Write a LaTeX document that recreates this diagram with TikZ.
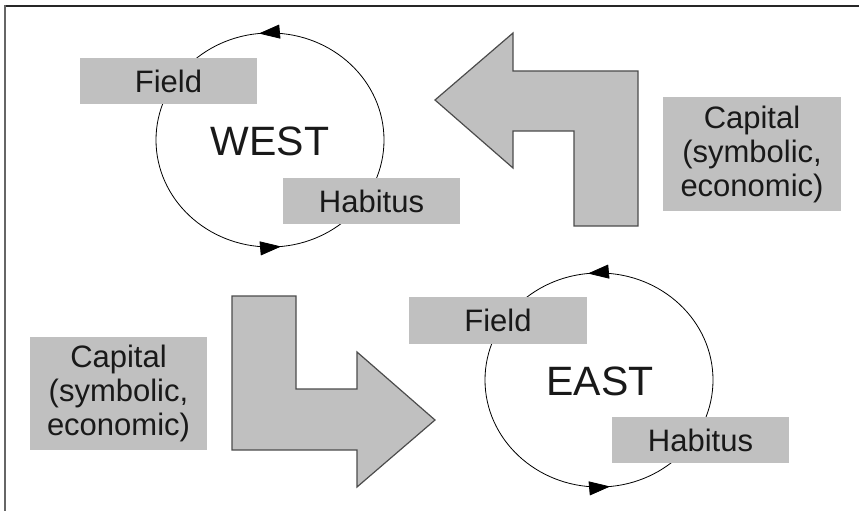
\documentclass[tikz,border=0pt]{standalone}
\usepackage{fontspec}
\setmainfont{Liberation Sans}
\usetikzlibrary{arrows.meta,decorations.markings,shapes.geometric}
\definecolor{boxgray}{RGB}{192,192,192}
\definecolor{txt}{RGB}{25,25,25}
\begin{document}
\begin{tikzpicture}[x=1pt,y=-1pt,
  lbl/.style={fill=boxgray, inner sep=0pt, text=txt, align=center,
    font=\fontsize{31}{34}\selectfont},
  small/.style={lbl, minimum width=177pt, minimum height=46pt},
  tall/.style={lbl, minimum width=178pt, minimum height=114pt},
  big/.style={text=txt, font=\fontsize{41}{44}\selectfont, inner sep=0pt},
  cyc/.style={draw=black, line width=0.8pt, postaction={decorate},
    decoration={markings,
      mark=at position 0.266 with {\arrow{Triangle[length=21pt,width=14pt]}},
      mark=at position 0.766 with {\arrow{Triangle[length=21pt,width=14pt]}}}},
  bent/.style={fill=boxgray, draw=black!70, line width=1.2pt, line join=miter}]
\useasboundingbox (0,0) rectangle (859,511);
% frame
\draw[black!85, line width=2pt] (4,6) -- (859,6);
\draw[black!60, line width=2pt] (5,5) -- (5,511);
% WEST cycle
\draw[cyc] (270,140) ellipse [x radius=114pt, y radius=107pt];
\node[big] (west) at (270,141) {WEST};
\node[small] (wfield) at (168.5,81) {Field};
\node[small] (whab) at (371.5,201) {Habitus};
% EAST cycle
\draw[cyc] (599,380) ellipse [x radius=114pt, y radius=107pt];
\node[big] (east) at (600,381) {EAST};
\node[small, minimum width=178pt, minimum height=47pt] (efield) at (498,320.5) {Field};
\node[small] (ehab) at (700.5,440) {Habitus};
% capital boxes
\node[tall] (capr) at (752,154) {Capital\\(symbolic,\\economic)};
\node[tall, minimum width=177pt, minimum height=113pt] (capl) at (118.5,393.5) {Capital\\(symbolic,\\economic)};
% bent arrows
\draw[bent] (435,100) -- (513,33) -- (513,71) -- (638,71) -- (638,226)
  -- (574,226) -- (574,131) -- (513,131) -- (513,168) -- cycle;
\draw[bent] (232,296) -- (296,296) -- (296,389) -- (357,389) -- (357,352)
  -- (435,420) -- (357,487) -- (357,450) -- (232,450) -- cycle;
\end{tikzpicture}
\end{document}
